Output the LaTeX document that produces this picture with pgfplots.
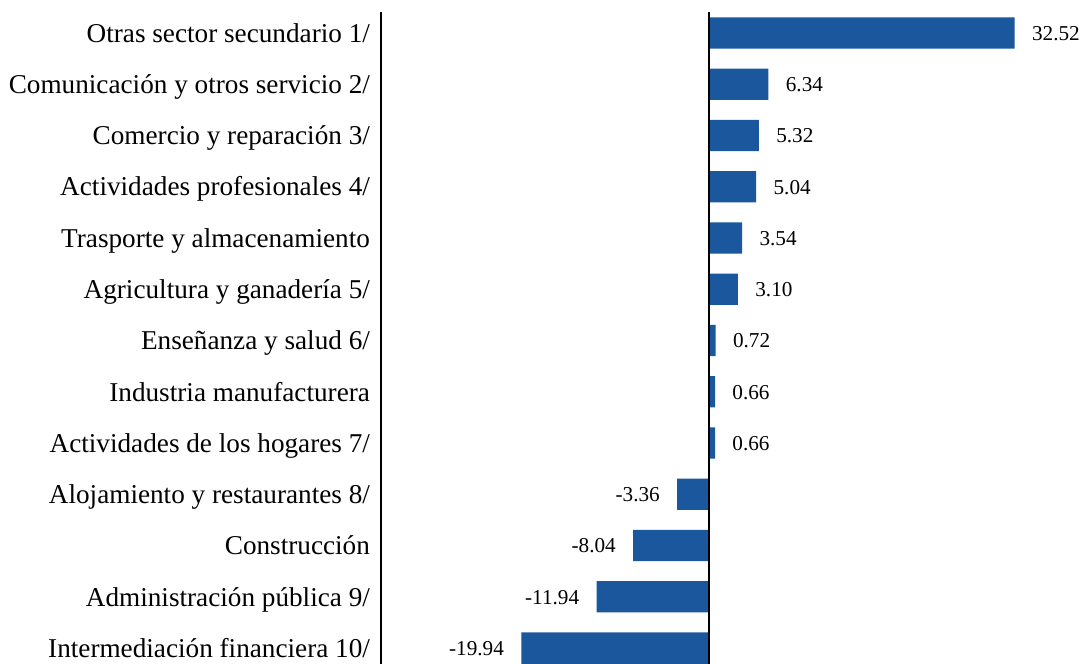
\documentclass[border=0pt]{standalone}
\usepackage{fontspec}
\setmainfont{Liberation Serif}
\usepackage{pgfplots}
\pgfplotsset{compat=1.18}
\definecolor{barblue}{HTML}{1A579C}

\begin{document}
\begin{tikzpicture}
\begin{axis}[
  name=ax,
  scale only axis,
  width=328.5pt, height=326pt,
  xbar, bar width=0.61, bar shift=0pt,
  xmin=-34.86, xmax=35,
  ymin=-0.41, ymax=12.31,
  y dir=reverse,
  axis x line=none,
  axis y line=left,
  y axis line style={-, black, line width=0.8pt},
  ytick={0,...,12},
  yticklabels={Otras sector secundario 1/,Comunicación y otros servicio 2/,Comercio y reparación 3/,Actividades profesionales 4/,Trasporte y almacenamiento,Agricultura y ganadería 5/,Enseñanza y salud 6/,Industria manufacturera,Actividades de los hogares 7/,Alojamiento y restaurantes 8/,Construcción,Administración pública 9/,Intermediación financiera 10/},
  major tick length=0pt,
  yticklabel style={font=\fontsize{13.6}{16}\selectfont, anchor=base east, xshift=-2pt, yshift=-4.6pt},
  nodes near coords,
  /pgf/number format/.cd, fixed, fixed zerofill, precision=2, assume math mode=true,
  /pgfplots/.cd,
  nodes near coords style={font=\fontsize{10.6}{12}\selectfont, inner sep=0pt, text=black, text height=7.3pt, text depth=0pt},
  clip=false,
]
\addplot[fill=barblue, draw=none, nodes near coords style={anchor=west, xshift=8.5pt}] coordinates {
  (32.52,0) (6.34,1) (5.32,2) (5.04,3) (3.54,4) (3.10,5) (0.72,6) (0.66,7) (0.66,8)};
\addplot[fill=barblue, draw=none, nodes near coords style={anchor=east, xshift=-8.5pt}] coordinates {
  (-3.36,9) (-8.04,10) (-11.94,11) (-19.94,12)};
\draw[black, line width=0.8pt] (axis cs:0,-0.41) -- (axis cs:0,12.31);
\end{axis}
\pgfresetboundingbox
\path (ax.south west) ++(-190.5pt,0pt) rectangle ++(541pt,332pt);
\end{tikzpicture}
\end{document}
